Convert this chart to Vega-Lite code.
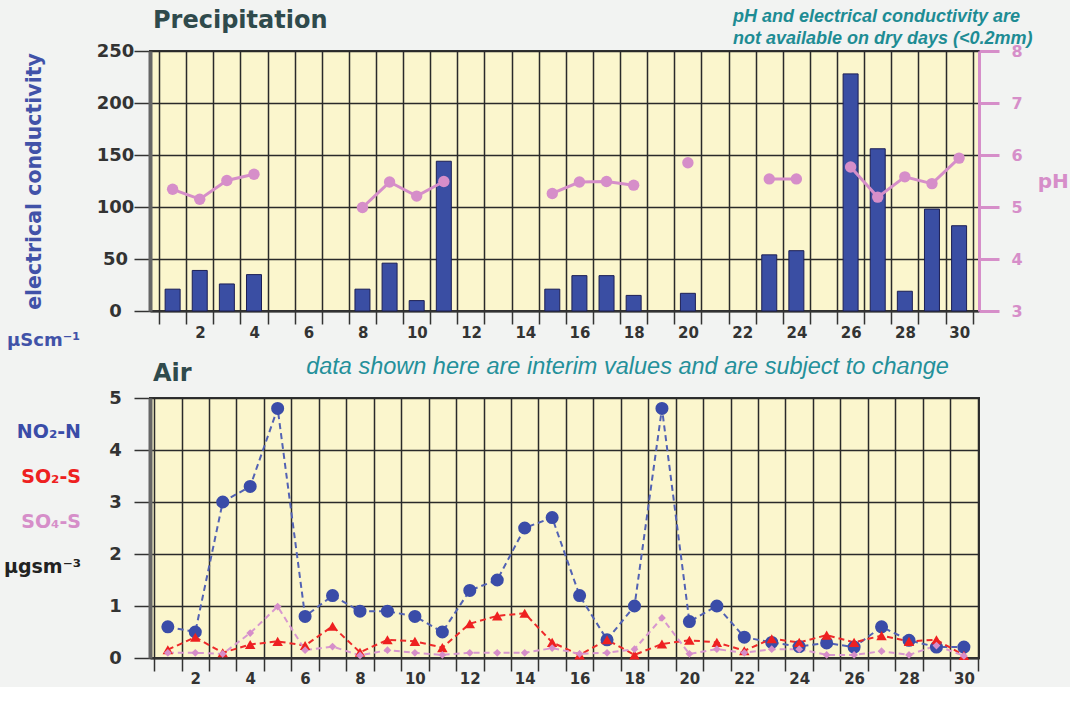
{
  "$schema": "https://vega.github.io/schema/vega-lite/v6.json",
  "background": "#f2f3f2",
  "padding": {"left": 4, "top": 8, "right": 0, "bottom": 0},
  "title": {
    "text": ["pH and electrical conductivity are", "not available on dry days (<0.2mm)"],
    "anchor": "start", "frame": "bounds", "dx": 729, "offset": -40,
    "font": "Liberation Sans", "fontSize": 18, "fontStyle": "italic", "fontWeight": "bold",
    "color": "#1e8c94", "lineHeight": 22
  },
  "bounds": "flush",
  "spacing": 87,
  "resolve": {"scale": {"color": "independent", "y": "independent", "x": "independent"}, "legend": {"color": "independent"}},
  "config": {
    "view": {"fill": "#fbf6cd", "stroke": "#333333", "strokeWidth": 2},
    "font": "DejaVu Sans",
    "axis": {"labelFont": "DejaVu Sans", "labelFontWeight": "bold", "labelColor": "#333333", "titleFont": "DejaVu Sans", "labelFlush": false, "labelBound": false, "labelOverlap": false},
    "legend": {"labelFont": "DejaVu Sans"}
  },
  "vconcat": [
    {
      "width": 829, "height": 260,
      "title": {"text": "Precipitation", "anchor": "start", "frame": "group", "offset": 9, "dx": 3, "fontSize": 24, "font": "DejaVu Sans", "fontWeight": "bold", "color": "#2f4a4c"},
      "data": {"values": [
        {"day": 1, "ec": 21, "ph": 5.34}, {"day": 2, "ec": 39, "ph": 5.15}, {"day": 3, "ec": 26, "ph": 5.51},
        {"day": 4, "ec": 35, "ph": 5.63}, {"day": 5, "ec": null, "ph": null}, {"day": 6, "ec": null, "ph": null},
        {"day": 7, "ec": null, "ph": null}, {"day": 8, "ec": 21, "ph": 4.99}, {"day": 9, "ec": 46, "ph": 5.48},
        {"day": 10, "ec": 10, "ph": 5.21}, {"day": 11, "ec": 144, "ph": 5.49}, {"day": 12, "ec": null, "ph": null},
        {"day": 13, "ec": null, "ph": null}, {"day": 14, "ec": null, "ph": null}, {"day": 15, "ec": 21, "ph": 5.26},
        {"day": 16, "ec": 34, "ph": 5.48}, {"day": 17, "ec": 34, "ph": 5.49}, {"day": 18, "ec": 15, "ph": 5.42},
        {"day": 19, "ec": null, "ph": null}, {"day": 20, "ec": 17, "ph": 5.85}, {"day": 21, "ec": null, "ph": null},
        {"day": 22, "ec": null, "ph": null}, {"day": 23, "ec": 54, "ph": 5.54}, {"day": 24, "ec": 58, "ph": 5.54},
        {"day": 25, "ec": null, "ph": null}, {"day": 26, "ec": 228, "ph": 5.77}, {"day": 27, "ec": 156, "ph": 5.19},
        {"day": 28, "ec": 19, "ph": 5.58}, {"day": 29, "ec": 98, "ph": 5.45}, {"day": 30, "ec": 82, "ph": 5.94}
      ]},
      "layer": [
        {
          "mark": {"type": "bar", "size": 15, "stroke": "#1c1f55", "strokeWidth": 1},
          "encoding": {
            "x": {"field": "day", "type": "quantitative", "scale": {"domain": [0.35, 30.55], "nice": false, "zero": false},
              "axis": {
                "values": [0.5,1.5,2.5,3.5,4.5,5.5,6.5,7.5,8.5,9.5,10.5,11.5,12.5,13.5,14.5,15.5,16.5,17.5,18.5,19.5,20.5,21.5,22.5,23.5,24.5,25.5,26.5,27.5,28.5,29.5,30.5],
                "tickCount": 40,
                "grid": true, "gridColor": "#2a2a2a", "gridWidth": 1.5, "gridOpacity": 1,
                "domain": true, "domainColor": "#333333", "domainWidth": 2,
                "ticks": true, "tickSize": 13, "tickColor": "#333333", "tickWidth": 1.5,
                "labelExpr": "(datum.value + 0.5) % 2 == 0 ? format(datum.value + 0.5, 'd') : ''",
                "labelOffset": 13.7, "labelPadding": 1, "labelFontSize": 15,
                "title": "data shown here are interim values and are subject to change",
                "titleFont": "Liberation Sans", "titleFontStyle": "italic", "titleFontWeight": "normal", "titleFontSize": 23.5,
                "titleColor": "#24909a", "titleX": 477, "titleY": 55, "titleAlign": "center", "titleBaseline": "middle"
              }},
            "y": {"field": "ec", "type": "quantitative", "scale": {"domain": [0, 250], "nice": false},
              "axis": {
                "values": [0, 50, 100, 150, 200, 250],
                "grid": true, "gridColor": "#2a2a2a", "gridWidth": 1.5, "gridOpacity": 1,
                "domain": true, "domainColor": "#666666", "domainWidth": 4,
                "tickSize": 16, "tickColor": "#333333", "tickWidth": 1.5,
                "labelAlign": "center", "labelBaseline": "middle", "labelPadding": 19, "labelFontSize": 18,
                "title": "electrical conductivity", "titleFontSize": 20.5, "titleFontWeight": "bold", "titleColor": "#4152a8", "titlePadding": 52
              }},
            "color": {"datum": "µScm⁻¹", "scale": {"range": ["#3a4ea3"]},
              "legend": {"orient": "none", "legendX": -145, "legendY": 281, "title": null, "symbolSize": 1, "symbolType": "square", "symbolOpacity": 0, "symbolStrokeWidth": 0,
                "labelFontSize": 18, "labelFontWeight": "bold", "labelColor": "#4152a8", "padding": 0, "labelOffset": -16, "labelLimit": 0}}
          }
        },
        {
          "layer": [
            {
              "mark": {"type": "line", "color": "#d68ec9", "strokeWidth": 3, "invalid": "break-paths-show-domains"},
              "encoding": {
                "x": {"field": "day", "type": "quantitative"},
                "y": {"field": "ph", "type": "quantitative", "scale": {"domain": [3, 8], "nice": false, "zero": false},
                  "axis": {
                    "orient": "right", "values": [3, 4, 5, 6, 7, 8], "grid": false,
                    "domain": true, "domainColor": "#d68ec9", "domainWidth": 3,
                    "tickSize": 20, "tickColor": "#d68ec9", "tickWidth": 3,
                    "labelColor": "#d68ec9", "labelFontSize": 16, "labelPadding": 12,
                    "title": "pH", "titleAngle": 0, "titleAlign": "left", "titleBaseline": "middle",
                    "titleColor": "#d68ec9", "titleFontSize": 20, "titleFontWeight": "bold", "titlePadding": 15
                  }}
              }
            },
            {
              "mark": {"type": "point", "filled": true, "shape": "circle", "size": 130, "color": "#d68ec9", "opacity": 1},
              "encoding": {
                "x": {"field": "day", "type": "quantitative"},
                "y": {"field": "ph", "type": "quantitative"}
              }
            }
          ]
        }
      ],
      "resolve": {"scale": {"y": "independent"}}
    },
    {
      "width": 829, "height": 260,
      "title": {"text": "Air", "anchor": "start", "frame": "group", "offset": 3, "dx": 3, "fontSize": 24, "font": "DejaVu Sans", "fontWeight": "bold", "color": "#2f4a4c"},
      "data": {"values": [
        {"day": 1, "series": "NO₂-N", "value": 0.6}, {"day": 2, "series": "NO₂-N", "value": 0.5}, {"day": 3, "series": "NO₂-N", "value": 3.0},
        {"day": 4, "series": "NO₂-N", "value": 3.3}, {"day": 5, "series": "NO₂-N", "value": 4.8}, {"day": 6, "series": "NO₂-N", "value": 0.8},
        {"day": 7, "series": "NO₂-N", "value": 1.2}, {"day": 8, "series": "NO₂-N", "value": 0.9}, {"day": 9, "series": "NO₂-N", "value": 0.9},
        {"day": 10, "series": "NO₂-N", "value": 0.8}, {"day": 11, "series": "NO₂-N", "value": 0.5}, {"day": 12, "series": "NO₂-N", "value": 1.3},
        {"day": 13, "series": "NO₂-N", "value": 1.5}, {"day": 14, "series": "NO₂-N", "value": 2.5}, {"day": 15, "series": "NO₂-N", "value": 2.7},
        {"day": 16, "series": "NO₂-N", "value": 1.2}, {"day": 17, "series": "NO₂-N", "value": 0.35}, {"day": 18, "series": "NO₂-N", "value": 1.0},
        {"day": 19, "series": "NO₂-N", "value": 4.8}, {"day": 20, "series": "NO₂-N", "value": 0.7}, {"day": 21, "series": "NO₂-N", "value": 1.0},
        {"day": 22, "series": "NO₂-N", "value": 0.4}, {"day": 23, "series": "NO₂-N", "value": 0.3}, {"day": 24, "series": "NO₂-N", "value": 0.22},
        {"day": 25, "series": "NO₂-N", "value": 0.29}, {"day": 26, "series": "NO₂-N", "value": 0.21}, {"day": 27, "series": "NO₂-N", "value": 0.6},
        {"day": 28, "series": "NO₂-N", "value": 0.34}, {"day": 29, "series": "NO₂-N", "value": 0.21}, {"day": 30, "series": "NO₂-N", "value": 0.21},
        {"day": 1, "series": "SO₂-S", "value": 0.16}, {"day": 2, "series": "SO₂-S", "value": 0.4}, {"day": 3, "series": "SO₂-S", "value": 0.1},
        {"day": 4, "series": "SO₂-S", "value": 0.26}, {"day": 5, "series": "SO₂-S", "value": 0.32}, {"day": 6, "series": "SO₂-S", "value": 0.24},
        {"day": 7, "series": "SO₂-S", "value": 0.61}, {"day": 8, "series": "SO₂-S", "value": 0.11}, {"day": 9, "series": "SO₂-S", "value": 0.35},
        {"day": 10, "series": "SO₂-S", "value": 0.32}, {"day": 11, "series": "SO₂-S", "value": 0.2}, {"day": 12, "series": "SO₂-S", "value": 0.66},
        {"day": 13, "series": "SO₂-S", "value": 0.81}, {"day": 14, "series": "SO₂-S", "value": 0.86}, {"day": 15, "series": "SO₂-S", "value": 0.3},
        {"day": 16, "series": "SO₂-S", "value": 0.06}, {"day": 17, "series": "SO₂-S", "value": 0.35}, {"day": 18, "series": "SO₂-S", "value": 0.06},
        {"day": 19, "series": "SO₂-S", "value": 0.27}, {"day": 20, "series": "SO₂-S", "value": 0.34}, {"day": 21, "series": "SO₂-S", "value": 0.3},
        {"day": 22, "series": "SO₂-S", "value": 0.14}, {"day": 23, "series": "SO₂-S", "value": 0.37}, {"day": 24, "series": "SO₂-S", "value": 0.3},
        {"day": 25, "series": "SO₂-S", "value": 0.44}, {"day": 26, "series": "SO₂-S", "value": 0.3}, {"day": 27, "series": "SO₂-S", "value": 0.43},
        {"day": 28, "series": "SO₂-S", "value": 0.32}, {"day": 29, "series": "SO₂-S", "value": 0.35}, {"day": 30, "series": "SO₂-S", "value": 0.05},
        {"day": 1, "series": "SO₄-S", "value": 0.1}, {"day": 2, "series": "SO₄-S", "value": 0.1}, {"day": 3, "series": "SO₄-S", "value": 0.08},
        {"day": 4, "series": "SO₄-S", "value": 0.48}, {"day": 5, "series": "SO₄-S", "value": 0.99}, {"day": 6, "series": "SO₄-S", "value": 0.15},
        {"day": 7, "series": "SO₄-S", "value": 0.22}, {"day": 8, "series": "SO₄-S", "value": 0.05}, {"day": 9, "series": "SO₄-S", "value": 0.15},
        {"day": 10, "series": "SO₄-S", "value": 0.1}, {"day": 11, "series": "SO₄-S", "value": 0.06}, {"day": 12, "series": "SO₄-S", "value": 0.1},
        {"day": 13, "series": "SO₄-S", "value": 0.1}, {"day": 14, "series": "SO₄-S", "value": 0.1}, {"day": 15, "series": "SO₄-S", "value": 0.19},
        {"day": 16, "series": "SO₄-S", "value": 0.08}, {"day": 17, "series": "SO₄-S", "value": 0.1}, {"day": 18, "series": "SO₄-S", "value": 0.17},
        {"day": 19, "series": "SO₄-S", "value": 0.77}, {"day": 20, "series": "SO₄-S", "value": 0.08}, {"day": 21, "series": "SO₄-S", "value": 0.17},
        {"day": 22, "series": "SO₄-S", "value": 0.1}, {"day": 23, "series": "SO₄-S", "value": 0.17}, {"day": 24, "series": "SO₄-S", "value": 0.17},
        {"day": 25, "series": "SO₄-S", "value": 0.06}, {"day": 26, "series": "SO₄-S", "value": 0.06}, {"day": 27, "series": "SO₄-S", "value": 0.13},
        {"day": 28, "series": "SO₄-S", "value": 0.06}, {"day": 29, "series": "SO₄-S", "value": 0.24}, {"day": 30, "series": "SO₄-S", "value": 0.04}
      ]},
      "layer": [
        {
          "mark": {"type": "line", "strokeDash": [6, 4], "strokeWidth": 2},
          "encoding": {
            "x": {"field": "day", "type": "quantitative", "scale": {"domain": [0.35, 30.55], "nice": false, "zero": false},
              "axis": {
                "values": [0.5,1.5,2.5,3.5,4.5,5.5,6.5,7.5,8.5,9.5,10.5,11.5,12.5,13.5,14.5,15.5,16.5,17.5,18.5,19.5,20.5,21.5,22.5,23.5,24.5,25.5,26.5,27.5,28.5,29.5,30.5],
                "tickCount": 40,
                "grid": true, "gridColor": "#2a2a2a", "gridWidth": 1.5, "gridOpacity": 1,
                "domain": true, "domainColor": "#333333", "domainWidth": 2,
                "ticks": true, "tickSize": 13, "tickColor": "#333333", "tickWidth": 1.5,
                "labelExpr": "(datum.value + 0.5) % 2 == 0 ? format(datum.value + 0.5, 'd') : ''",
                "labelOffset": 13.7, "labelPadding": 0, "labelFontSize": 15,
                "title": null
              }},
            "y": {"field": "value", "type": "quantitative", "scale": {"domain": [0, 5], "nice": false},
              "axis": {
                "values": [0, 1, 2, 3, 4, 5],
                "grid": true, "gridColor": "#2a2a2a", "gridWidth": 1.5, "gridOpacity": 1,
                "domain": true, "domainColor": "#666666", "domainWidth": 4,
                "tickSize": 16, "tickColor": "#333333", "tickWidth": 1.5,
                "labelAlign": "center", "labelBaseline": "middle", "labelPadding": 19, "labelFontSize": 18,
                "title": null
              }},
            "color": {"field": "series", "type": "nominal",
              "scale": {"domain": ["NO₂-N", "SO₂-S", "SO₄-S", "µgsm⁻³"], "range": ["#5262b4", "#ee2a2a", "#d898cf", "#222222"]},
              "legend": {"orient": "none", "legendX": -88, "legendY": 24, "title": null, "symbolSize": 1, "symbolType": "square", "symbolOpacity": 0, "symbolStrokeWidth": 0,
                "labelAlign": "right", "labelFontSize": 19, "labelFontWeight": "bold", "rowPadding": 25, "padding": 0, "labelOffset": 0, "labelLimit": 0,
                "encode": {"labels": {"update": {"fill": {"signal": "datum.label == 'NO₂-N' ? '#3a4ca8' : datum.label == 'SO₂-S' ? '#ee2020' : datum.label == 'SO₄-S' ? '#d68ec9' : '#222222'"}}}}}
            }
          }
        },
        {
          "transform": [{"filter": "datum.series == 'NO₂-N'"}],
          "mark": {"type": "point", "shape": "circle", "filled": true, "size": 170, "color": "#3a4ca8", "opacity": 1},
          "encoding": {"x": {"field": "day", "type": "quantitative"}, "y": {"field": "value", "type": "quantitative"}}
        },
        {
          "transform": [{"filter": "datum.series == 'SO₂-S'"}],
          "mark": {"type": "point", "shape": "triangle-up", "filled": true, "size": 110, "color": "#ee2020", "opacity": 1},
          "encoding": {"x": {"field": "day", "type": "quantitative"}, "y": {"field": "value", "type": "quantitative"}}
        },
        {
          "transform": [{"filter": "datum.series == 'SO₄-S'"}],
          "mark": {"type": "point", "shape": "diamond", "filled": true, "size": 60, "color": "#d68ec9", "opacity": 1},
          "encoding": {"x": {"field": "day", "type": "quantitative"}, "y": {"field": "value", "type": "quantitative"}}
        }
      ]
    }
  ]
}
